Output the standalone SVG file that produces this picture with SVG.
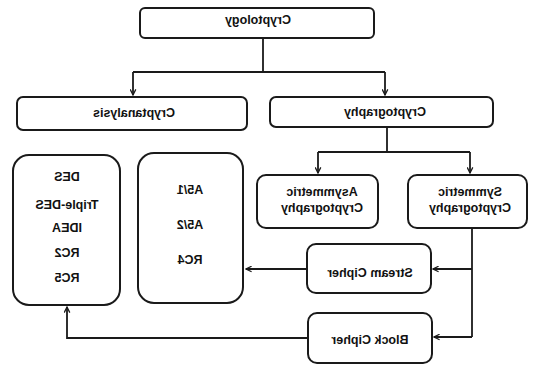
<svg xmlns="http://www.w3.org/2000/svg" width="534" height="367" viewBox="0 0 534 367">
<style>
.box{fill:#fff;stroke:#1a1a1a;stroke-width:2}
.t{font-family:"Liberation Sans",Arial,sans-serif;font-weight:bold;font-size:12.5px;fill:#111;text-anchor:middle}
.c{fill:none;stroke:#1a1a1a;stroke-width:1.8}
</style>
<defs>
<marker id="a" viewBox="0 0 10 10" refX="9" refY="5" markerWidth="7" markerHeight="7" orient="auto" markerUnits="userSpaceOnUse">
<path d="M1,1 L9,5 L1,9" fill="none" stroke="#1a1a1a" stroke-width="1.8"/>
</marker>
</defs>
<rect width="534" height="367" fill="#fff"/>
<g id="connectors">
<path class="c" d="M263,38 V72"/>
<path class="c" d="M133,72 H385"/>
<path class="c" d="M133,72 V95" marker-end="url(#a)"/>
<path class="c" d="M385,72 V95" marker-end="url(#a)"/>
<path class="c" d="M387,127 V152"/>
<path class="c" d="M318,152 H470"/>
<path class="c" d="M318,152 V173" marker-end="url(#a)"/>
<path class="c" d="M470,152 V173" marker-end="url(#a)"/>
<path class="c" d="M472,228 V337"/>
<path class="c" d="M472,269 H433" marker-end="url(#a)"/>
<path class="c" d="M472,337 H434" marker-end="url(#a)"/>
<path class="c" d="M307,269 H246" marker-end="url(#a)"/>
<path class="c" d="M308,338 H67 V307" marker-end="url(#a)"/>
</g>
<g id="cryptology">
<rect class="box" x="140" y="8" width="234" height="30" rx="5"/>
<text class="t" transform="scale(-1,1)" x="-258" y="24">Cryptology</text>
</g>
<g id="cryptanalysis">
<rect class="box" x="17" y="97" width="230" height="33" rx="6"/>
<text class="t" transform="scale(-1,1)" x="-134" y="117">Cryptanalysis</text>
</g>
<g id="cryptography">
<rect class="box" x="270" y="97" width="223" height="30" rx="6"/>
<text class="t" transform="scale(-1,1)" x="-385" y="116">Cryptography</text>
</g>
<g id="asymmetric">
<rect class="box" x="257" y="175" width="121" height="53" rx="9"/>
<text class="t" transform="scale(-1,1)" x="-322" y="196">Asymmetric</text>
<text class="t" transform="scale(-1,1)" x="-322" y="212">Cryptography</text>
</g>
<g id="symmetric">
<rect class="box" x="408" y="175" width="119" height="53" rx="9"/>
<text class="t" transform="scale(-1,1)" x="-470" y="196">Symmetric</text>
<text class="t" transform="scale(-1,1)" x="-470" y="212">Cryptography</text>
</g>
<g id="stream-cipher">
<rect class="box" x="307" y="244" width="124" height="49" rx="9"/>
<text class="t" transform="scale(-1,1)" x="-370" y="277">Stream Cipher</text>
</g>
<g id="block-cipher">
<rect class="box" x="308" y="313" width="124" height="50" rx="9"/>
<text class="t" transform="scale(-1,1)" x="-370" y="344">Block Cipher</text>
</g>
<g id="stream-algos">
<rect class="box" x="138" y="153" width="105" height="150" rx="16"/>
<text class="t" transform="scale(-1,1)" x="-190" y="194">A5/1</text>
<text class="t" transform="scale(-1,1)" x="-190" y="229">A5/2</text>
<text class="t" transform="scale(-1,1)" x="-190" y="264">RC4</text>
</g>
<g id="block-algos">
<rect class="box" x="13" y="155" width="107" height="150" rx="16"/>
<text class="t" transform="scale(-1,1)" x="-67" y="181">DES</text>
<text class="t" transform="scale(-1,1)" x="-67" y="209">Triple-DES</text>
<text class="t" transform="scale(-1,1)" x="-67" y="232">IDEA</text>
<text class="t" transform="scale(-1,1)" x="-67" y="257">RC2</text>
<text class="t" transform="scale(-1,1)" x="-67" y="282">RC5</text>
</g>
</svg>
